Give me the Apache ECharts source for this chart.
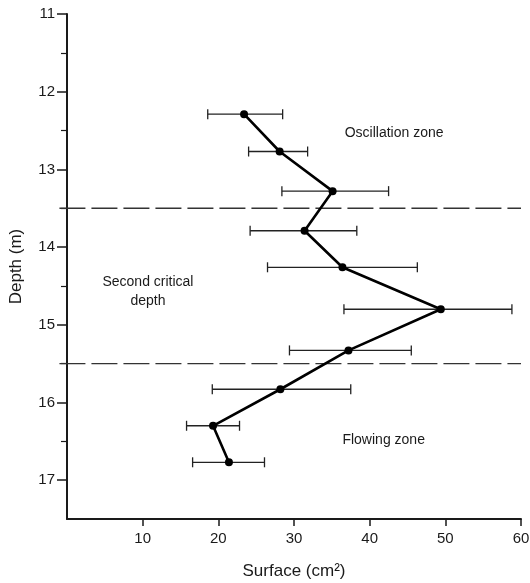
<!DOCTYPE html>
<html>
<head>
<meta charset="utf-8">
<script src="https://cdn.jsdelivr.net/npm/echarts@6/dist/echarts.min.js"></script>
<style>
html,body{margin:0;padding:0;background:#fff;}
#chart{width:530px;height:583px;}
</style>
</head>
<body>
<div id="chart"></div>
<script>
// Data
const depth   = [12.29, 12.77, 13.28, 13.79, 14.26, 14.80, 15.33, 15.83, 16.30, 16.77];
const surface = [23.4, 28.1, 35.1, 31.4, 36.4, 49.4, 37.2, 28.2, 19.3, 21.4];
const errLow  = [18.6, 24.0, 28.4, 24.2, 26.5, 36.6, 29.4, 19.2, 15.8, 16.6];
const errHigh = [28.5, 31.8, 42.5, 38.3, 46.3, 58.8, 45.5, 37.5, 22.8, 26.1];
const boundaryDepths = [13.5, 15.5];
const xTicks = [10, 20, 30, 40, 50, 60];
const yTicks = [11, 12, 13, 14, 15, 16, 17];
const annotText  = ['Oscillation zone', 'Second critical\ndepth', 'Flowing zone'];
const annotX     = [36.7, 10.7, 36.4];
const annotY     = [12.53, 14.58, 16.48];
const annotAlign = ['left', 'center', 'left'];

const FONT = '"Liberation Sans", Arial, sans-serif';
const INK = '#1a1a1a';

const chart = echarts.init(document.getElementById('chart'));
chart.setOption({
  animation: false,
  backgroundColor: '#fff',
  grid: { left: 67, right: 9, top: 14, bottom: 64, containLabel: false, outerBoundsMode: 'none' },
  xAxis: {
    type: 'value', min: 0, max: 60, interval: 10,
    name: 'Surface (cm²)', nameLocation: 'middle', nameGap: 44,
    nameTextStyle: { fontFamily: FONT, fontSize: 17, color: INK },
    axisLine: { show: true, lineStyle: { color: INK, width: 2 } },
    axisTick: { show: true, length: 7, customValues: xTicks, lineStyle: { color: INK, width: 1.5 } },
    axisLabel: {
      fontFamily: FONT, fontSize: 15, color: INK, margin: 12,
      customValues: xTicks,
      formatter: v => xTicks.includes(v) ? String(v) : ''
    },
    splitLine: { show: false }
  },
  yAxis: {
    type: 'value', inverse: true, min: 11, max: 17.5, interval: 1,
    name: 'Depth (m)', nameLocation: 'middle', nameGap: 42, nameRotate: 90,
    nameTextStyle: { fontFamily: FONT, fontSize: 17, color: INK },
    axisLine: { show: true, lineStyle: { color: INK, width: 2 } },
    axisTick: { show: true, length: 10, customValues: yTicks, lineStyle: { color: INK, width: 1.5 } },
    minorTick: { show: true, splitNumber: 2, length: 6, lineStyle: { color: INK, width: 1.2 } },
    axisLabel: {
      fontFamily: FONT, fontSize: 15, color: INK, margin: 12,
      customValues: yTicks,
      formatter: v => yTicks.includes(v) ? String(v) : ''
    },
    splitLine: { show: false }
  },
  series: [
    {
      type: 'custom',
      renderItem: function (params, api) {
        const y = api.value(1);
        return {
          type: 'line',
          shape: {
            x1: api.coord([-1, y])[0], y1: api.coord([-1, y])[1],
            x2: api.coord([60, y])[0], y2: api.coord([60, y])[1]
          },
          style: { stroke: '#333', lineWidth: 1.3, lineDash: [26, 6] }
        };
      },
      clip: false,
      data: boundaryDepths.map(d => [0, d]),
      z: 1
    },
    {
      type: 'custom',
      renderItem: function (params, api) {
        const y = api.value(2);
        const a = api.coord([api.value(0), y]);
        const b = api.coord([api.value(1), y]);
        const c = 5;
        const st = { stroke: '#222', lineWidth: 1.3 };
        return {
          type: 'group',
          children: [
            { type: 'line', shape: { x1: a[0], y1: a[1], x2: b[0], y2: b[1] }, style: st },
            { type: 'line', shape: { x1: a[0], y1: a[1] - c, x2: a[0], y2: a[1] + c }, style: st },
            { type: 'line', shape: { x1: b[0], y1: b[1] - c, x2: b[0], y2: b[1] + c }, style: st }
          ]
        };
      },
      data: depth.map((d, i) => [errLow[i], errHigh[i], d]),
      z: 2
    },
    {
      type: 'line',
      data: surface.map((s, i) => [s, depth[i]]),
      symbol: 'circle', symbolSize: 8,
      itemStyle: { color: '#000' },
      lineStyle: { color: '#000', width: 2.6 },
      z: 3
    },
    {
      type: 'custom',
      renderItem: function (params, api) {
        const i = params.dataIndex;
        const p = api.coord([api.value(0), api.value(1)]);
        return {
          type: 'text',
          x: p[0], y: p[1],
          style: {
            text: annotText[i],
            font: '14px ' + FONT,
            fill: INK,
            align: annotAlign[i],
            verticalAlign: 'middle',
            lineHeight: 19
          }
        };
      },
      data: annotX.map((x, i) => [x, annotY[i]]),
      z: 4
    }
  ]
});
</script>
</body>
</html>
